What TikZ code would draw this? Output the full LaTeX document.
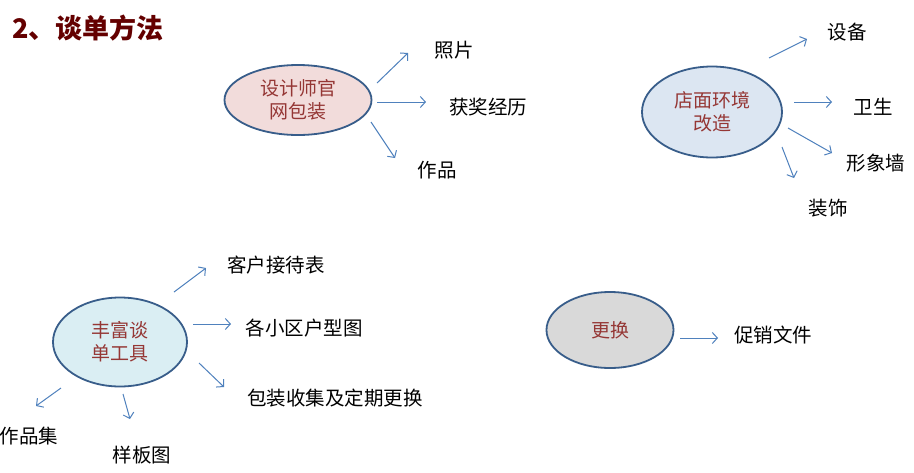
\documentclass[tikz,border=0pt]{standalone}
\usepackage{fontspec}
\setmainfont{Noto Sans CJK SC}
\usetikzlibrary{shapes.geometric,arrows.meta}
\definecolor{bubbleline}{RGB}{56,93,138}
\definecolor{arrowblue}{RGB}{79,129,189}
\definecolor{bubbletext}{RGB}{149,55,53}
\definecolor{titlered}{RGB}{100,0,0}
\definecolor{pinkfill}{RGB}{242,220,219}
\definecolor{bluefill}{RGB}{220,230,242}
\definecolor{cyanfill}{RGB}{218,238,243}
\definecolor{greyfill}{RGB}{217,217,217}
\tikzset{bubble/.style={ellipse, draw=bubbleline, line width=1.8pt, inner sep=0pt, align=center,
					text=bubbletext, font=\fontsize{19}{23}\selectfont},
		leaf/.style={font=\fontsize{19.5}{23}\selectfont, inner sep=0pt},
		arr/.style={draw=arrowblue, line width=1pt, -{Straight Barb[length=5pt,width=11pt]}}}

\begin{document}
\begin{tikzpicture}[x=1pt,y=-1pt]

					\useasboundingbox[fill=white] (0,0) rectangle (914,472);

					\node[anchor=west, text=titlered, font=\fontsize{27}{30}\selectfont\bfseries, inner sep=0pt] (title) at (12,28) {2、谈单方法};

					\node[bubble, fill=pinkfill, minimum width=147pt, minimum height=70pt] (pink) at (298,100) {设计师官\\网包装};
					\node[leaf] (photo) at (454,50) {照片};
					\node[leaf] (award) at (488,107) {获奖经历};
					\node[leaf] (works) at (437,170) {作品};

					\draw[arr] ([shift={(79,-17)}]pink.center) -- ([shift={(-46,3)}]photo.center);
					\draw[arr] ([shift={(79,2)}]pink.center) -- ([shift={(-62,-5)}]award.center);
					\draw[arr] ([shift={(73,22)}]pink.center) -- ([shift={(-42,-12)}]works.center);

					\node[bubble, fill=bluefill, minimum width=140pt, minimum height=91pt] (shop) at (712,112) {店面环境\\改造};
					\node[leaf] (device) at (847,32) {设备};
					\node[leaf] (clean) at (873,107) {卫生};
					\node[leaf] (wall) at (876,163) {形象墙};
					\node[leaf] (decor) at (828,208) {装饰};

					\draw[arr] ([shift={(57,-54)}]shop.center) -- ([shift={(-40,7)}]device.center);
					\draw[arr] ([shift={(82,-10)}]shop.center) -- ([shift={(-41,-5)}]clean.center);
					\draw[arr] ([shift={(76,16)}]shop.center) -- ([shift={(-44,-10)}]wall.center);
					\draw[arr] ([shift={(70,35)}]shop.center) -- ([shift={(-34,-30)}]decor.center);

					\node[bubble, fill=cyanfill, minimum width=134pt, minimum height=89pt] (tools) at (120,342) {丰富谈\\单工具};
					\node[leaf] (guest) at (276,265) {客户接待表};
					\node[leaf] (plan) at (304,328) {各小区户型图};
					\node[leaf] (pack) at (335,398) {包装收集及定期更换};
					\node[leaf] (album) at (29,436) {作品集};
					\node[leaf] (sample) at (142,455) {样板图};

					\draw[arr] ([shift={(54,-50)}]tools.center) -- ([shift={(-70,3)}]guest.center);
					\draw[arr] ([shift={(73,-18)}]tools.center) -- ([shift={(-73,-4)}]plan.center);
					\draw[arr] ([shift={(79,21)}]tools.center) -- ([shift={(-111,-11)}]pack.center);
					\draw[arr] ([shift={(-59,46)}]tools.center) -- ([shift={(7,-30)}]album.center);
					\draw[arr] ([shift={(3,52)}]tools.center) -- ([shift={(-12,-36)}]sample.center);

					\node[bubble, fill=greyfill, minimum width=127pt, minimum height=76pt] (swap) at (610,330) {更换};
					\node[leaf] (promo) at (773,335) {促销文件};

					\draw[arr] ([shift={(70,8)}]swap.center) -- ([shift={(-55,3)}]promo.center);

\end{tikzpicture}
\end{document}
